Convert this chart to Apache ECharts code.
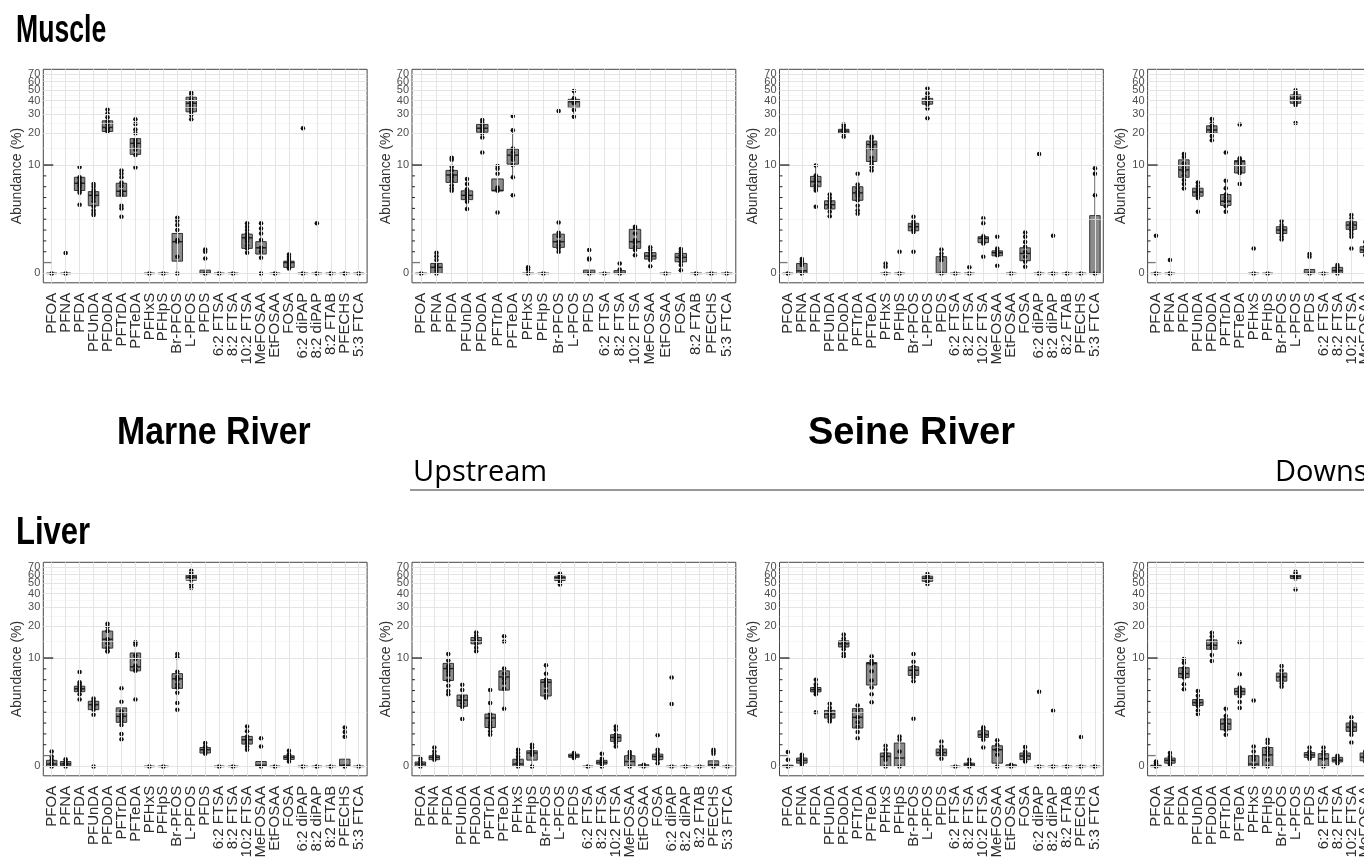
<!DOCTYPE html>
<html><head><meta charset="utf-8">
<script src="https://cdn.jsdelivr.net/npm/echarts@6/dist/echarts.min.js"></script>
<style>html,body{margin:0;padding:0;background:#fff}#c{width:1364px;height:866px}</style>
</head><body><div id="c"></div>
<script>
// ---------------- categories ----------------
const catsFull = ['PFOA','PFNA','PFDA','PFUnDA','PFDoDA','PFTrDA','PFTeDA','PFHxS','PFHpS','Br-PFOS','L-PFOS','PFDS','6:2 FTSA','8:2 FTSA','10:2 FTSA','MeFOSAA','EtFOSAA','FOSA','6:2 diPAP','8:2 diPAP','8:2 FTAB','PFECHS','5:3 FTCA'];
const catsUpMuscle = ['PFOA','PFNA','PFDA','PFUnDA','PFDoDA','PFTrDA','PFTeDA','PFHxS','PFHpS','Br-PFOS','L-PFOS','PFDS','6:2 FTSA','8:2 FTSA','10:2 FTSA','MeFOSAA','EtFOSAA','FOSA','8:2 FTAB','PFECHS','5:3 FTCA'];
// y tick labels (Abundance %)
const yTickLabels = [0,10,20,30,40,50,60,70];
const Z = [0,0,0,0,0];

// ---------------- Muscle, Marne River ----------------
// box = [lower whisker, Q1, median, Q3, upper whisker] in %
const muscleMarneBox = [Z,Z,[4.1,5.7,6.7,7.65,9.6],[3.2,4.0,5.1,5.55,6.6],[20.3,20.6,22.5,25.9,33],[3.06,5.0,5.6,6.7,8.9],[9.5,12.6,16.0,17.7,26.8],Z,Z,[0,0.53,1.46,1.92,2.98],[26.8,31.4,37.7,42.9,47.3],[0,0,0,0.14,0.14],Z,Z,[0.91,1.12,1.67,1.88,2.57],[0.68,0.85,1.15,1.46,2.57],Z,[0.21,0.26,0.47,0.53,0.83],Z,Z,Z,Z,Z];
const muscleMarnePts = [[0],[0,0.9],[9.6,7.65,7.37,6.9,6.7,6.4,6.1,5.7,5.4,4.1],[6.6,6.2,5.75,5.4,5.1,4.8,4.45,3.93,3.6,3.35,3.2],[33,30.3,27.9,25.5,23.9,22.1,21.3,20.6],[8.9,8.25,7.65,6.83,6.3,5.6,5.2,4.0,3.75,3.06],[26.8,24.2,21.5,19.8,17.1,16,15.1,13.9,12.4,9.5],[0],[0],[2.98,2.76,2.45,2.13,1.55,1.46,0.73,0],[47.3,45.1,41.0,39.0,37.7,35.7,33.8,31.4,29.3,26.8],[1.07,0.96,0.65,0],[0],[0],[2.57,2.34,2.13,1.92,1.73,1.58,1.46,1.28,1.12,0.91],[2.57,2.23,1.92,1.55,1.15,0.96,0.68,0],[0],[0.83,0.73,0.63,0.5,0.4,0.29,0.21],[0,22.1],[0,2.57],[0],[0],[0]];

// ---------------- Muscle, Seine upstream ----------------
const muscleUpBox = [Z,[0,0,0.26,0.43,0.91],[5.65,6.83,8.05,8.9,11.7],[3.7,4.62,5.1,5.65,7.37],[18.1,20.3,22.1,24.0,26.4],[5.65,5.65,5.7,7.37,9.8],[7.65,10.2,12.4,14.1,21.2],Z,Z,[0.96,1.17,1.46,1.88,2.62],[28.3,34.4,39,41,49],[0,0,0,0.14,0.14],Z,[0,0,0,0.12,0.12],[0.8,1.12,1.46,2.17,2.34],[0.31,0.62,0.76,0.92,1.17],Z,[0.14,0.5,0.7,0.88,1.09],Z,Z,Z];
const muscleUpPts = [[0],[0.91,0.75,0.58,0.36,0.26,0.12,0],[11.7,11.2,9.65,8.9,8.05,7.65,7.1,6.4,6.0,5.65],[7.37,6.6,5.85,5.4,5.1,4.8,4.4,3.7],[26.4,24.9,23.4,22.1,21,19.8,18.1,13.1],[9.8,9.2,8.25,6.1,5.85,5.65,3.4],[28.7,21.2,14.3,13.1,11.9,11.2,10.0,7.65,5.1],[0,0.17,0.26],[0],[32.0,2.62,1.96,1.76,1.46,1.28,1.12,0.96],[49,41.9,40.5,39,37.7,32.6,28.3],[1.04,0.65,0.6,0],[0],[0.43,0.17,0],[2.34,2.25,1.92,1.55,1.4,1.2,1.04,0.8],[1.17,1.04,0.88,0.73,0.58,0.31],[0],[1.09,0.96,0.8,0.65,0.5,0.36,0.14],[0],[0],[0]];

// ---------------- Muscle, Seine middle ----------------
const muscleMidBox = [Z,[0,0,0.11,0.43,0.62],[5.7,6.2,6.95,7.8,9.9],[3.1,3.7,4.1,4.5,5.2],[18.4,19.8,20.8,21.6,23.9],[3.3,4.55,5.4,6.2,8.25],[8.9,10.8,15.6,16.8,18.4],Z,Z,[1.96,2.08,2.34,2.57,3.06],[33.8,37,39.8,41.9,51.9],[0,0,0,0.73,1.07],Z,Z,[1.28,1.41,1.64,1.73,1.96],[0.77,0.77,0.91,1.0,1.1],Z,[0.29,0.55,0.88,1.15,1.98],Z,Z,Z,Z,[0,0,0,3.14,9.3]];
const muscleMidPts = [[0],[0.62,0.53,0.43,0.36,0],[9.9,7.94,7.37,6.95,6.4,5.95,5.7,3.9],[5.2,4.8,4.45,4.1,3.85,3.45,3.1],[23.9,22.9,21.6,20.8,19.8,18.4],[8.25,6.5,6.0,5.6,5.2,4.95,4.55,4.0,3.6,3.3],[18.4,17.7,16.4,15.2,14.4,11.7,10.8,10.2,9.6,8.9],[0,0.43,0.29],[0,0.96],[3.06,2.68,2.5,2.34,2.17,2.0,0.96],[51.9,46.7,43.5,41,39,36.7,33.8,27.3],[1.07,0.88,0.73,0.58,0],[0],[0,0.26],[2.93,2.57,1.76,1.64,1.46,1.37,0.73],[1.73,1.12,1.0,0.88,0.8,0.33],[0],[1.98,1.73,1.45,1.2,0.96,0.73,0.5,0.29],[0,12.7],[0,1.79],[0],[0],[9.3,8.25,5.1,0]];

// ---------------- Muscle, Seine downstream ----------------
const muscleDownBox = [Z,Z,[5.95,7.65,9.0,11.2,12.7],[4.6,5.0,5.5,6.0,6.83],[17.1,19.8,21.3,23.3,27],[3.47,4.03,4.45,5.2,7.1],[6.6,8.4,10.8,11.0,11.6],Z,Z,[1.58,1.92,2.13,2.34,2.73],[36.4,37.7,41.9,45.1,49.7],[0,0,0,0.17,0.17],Z,[0,0,0.12,0.26,0.36],[1.73,2.17,2.45,2.68,3.2],[0.7,0.92,1.05,1.2,1.45],Z,Z,Z,Z,Z,Z,Z];
const muscleDownPts = [[0,1.79],[0,0.58],[12.7,11.9,10.4,9.5,8.7,8.0,7.2,6.6,5.95],[6.83,6.3,5.8,5.5,5.2,4.8,3.47],[27,24.6,23,21.3,20.1,18.7,17.1],[13.1,7.1,6.0,5.2,4.8,4.45,3.95,3.47],[23.9,11.6,11.2,10.3,9.4,8.8,8.4,6.6],[0,1.12],[0],[2.73,2.45,2.25,2.1,1.92,1.73,1.58],[49.7,47,45.1,43,40.5,38.5,36.4,24.7],[0.85,0.73,0],[0],[0.36,0.26,0.12,0],[3.2,2.9,2.57,2.3,2.1,1.9,1.73,1.12],[1.45,1.2,1.0,0.8],[0],[0],[0],[0],[0],[0],[0]];

// ---------------- Liver, Marne River ----------------
const liverMarneBox = [[0,0,0.1,0.26,0.65],[0,0.03,0.11,0.21,0.31],[3.93,4.72,5.05,5.36,5.85],[2.68,3.06,3.47,3.77,4.03],[11.5,12.4,15.0,17.9,20.9],[1.23,2.17,2.57,3.2,5.1],[3.93,7.55,8.25,11.16,14.1],Z,Z,[3.62,5.1,6.33,7.1,10.9],[48.4,53.1,56.7,59.1,65.1],[0.55,0.58,0.73,0.83,1.04],Z,Z,[0.73,0.99,1.2,1.37,1.92],[0,0,0.05,0.21,0.21],Z,[0.21,0.3,0.39,0.46,0.68],Z,Z,Z,[0,0,0.05,0.31,0.31],Z];
const liverMarnePts = [[0.65,0.43,0.29,0.14,0],[0.31,0.21,0.14,0.07,0],[7.37,5.85,5.6,5.3,5.05,4.85,4.45,3.93],[4.03,3.77,3.5,3.3,3.06,2.68,0],[20.9,19.6,17.9,15.0,13.7,12.4,11.6,11.5],[5.1,3.73,2.93,2.7,2.45,2.25,2.0,1.5,1.23],[14.1,13.3,10.6,9.8,8.5,7.8,7.55,3.93],[0],[0],[10.9,10.2,7.4,6.6,6.2,5.6,5.2,4.6,3.62,3.06],[65.1,62,59.1,56.7,53.7,48.4,45.1],[1.04,0.88,0.73,0.62,0.55],[0],[0],[1.92,1.64,1.37,1.2,1.04,0.88,0.73],[1.28,0.88,0],[0],[0.68,0.53,0.43,0.33,0.21],[0],[0],[0],[1.86,1.6,1.35,0],[0]];

// ---------------- Liver, Seine upstream ----------------
const liverUpBox = [[0,0,0.1,0.19,0.33],[0.26,0.29,0.39,0.46,0.65],[4.45,6.1,7.94,8.9,10.9],[3.3,3.33,3.87,4.37,5.55],[11.6,13.6,14.5,15.6,17.4],[1.46,1.86,2.45,2.73,4.9],[3.14,4.9,6.6,7.55,7.94],[0,0,0.1,0.31,0.73],[0,0.27,0.58,0.68,0.96],[4.1,4.27,5.85,6.23,8.56],[48.4,52.7,56,57.9,61.2],[0.33,0.39,0.46,0.53,0.58],Z,[0,0.1,0.17,0.26,0.36],[0.88,1.12,1.32,1.46,1.92],[0,0,0.21,0.46,0.62],[0,0,0,0.07,0.07],[0.14,0.29,0.43,0.53,0.73],Z,Z,Z,[0,0,0.07,0.24,0.24],Z];
const liverUpPts = [[0.33,0.21,0.1,0],[0.83,0.65,0.5,0.39,0.29],[10.9,9.5,8.4,7.94,7.4,6.9,6.1,5.4,4.8,4.45],[5.55,4.9,4.2,3.87,3.6,3.3,2.39],[17.4,16.2,15.2,14.5,13.6,12.5,11.6],[4.9,3.62,2.73,2.45,2.2,2.0,1.86,1.65,1.46],[16.0,14.3,7.94,7.1,6.3,5.75,5.05,3.14],[0.73,0.58,0.43,0.29,0.14,0],[0.96,0.83,0.65,0.5,0],[8.56,7.1,6.2,5.85,5.4,4.8,4.27,4.1],[61.2,59,56,52.7,50,48.4],[0.58,0.5,0.43,0.36],[0],[0.55,0.33,0.21,0.1,0],[1.92,1.73,1.46,1.32,1.2,1.04,0.88],[0.62,0.5,0.36,0],[0.07,0],[1.43,0.73,0.58,0.43,0.29,0.14],[0,6.5,3.53],[0],[0],[0.73,0.65,0.55,0],[0]];

// ---------------- Liver, Seine middle ----------------
const liverMidBox = [[0,0,0,0.05,0.05],[0.07,0.14,0.26,0.36,0.5],[4.45,4.7,4.95,5.2,6.2],[2.23,2.45,2.73,3.0,3.55],[11.5,12.7,13.6,14.5,16.6],[1.28,1.83,2.5,3.14,3.4],[3.68,5.5,8.85,9.07,10.4],[0,0,0.43,0.58,0.91],[0,0,0.36,1.04,1.37],[6.0,6.83,7.65,8.25,9.2],[49,51.9,55.2,57.9,60.5],[0.33,0.46,0.6,0.76,1.12],Z,[0,0,0.07,0.14,0.14],[1.2,1.32,1.46,1.67,1.88],[0,0.14,0.73,0.91,1.17],[0,0,0,0.07,0.07],[0.21,0.29,0.45,0.58,0.8],Z,Z,Z,Z,Z];
const liverMidPts = [[0.62,0.29,0],[0.5,0.4,0.29,0.19,0.07],[6.2,5.6,5.2,4.95,4.7,4.45,2.86],[3.55,3.2,2.9,2.73,2.55,2.35,2.23],[16.6,15.3,14.5,13.9,12.9,12.1,11.0,10.4],[3.4,2.98,2.5,2.17,1.9,1.6,1.28],[10.4,9.4,8.85,7.5,6.1,5.2,4.45,3.68],[0.91,0.73,0.55,0.43,0.29,0],[1.37,1.2,0.65,0],[10.9,9.2,8.25,7.65,7.1,6.5,6.0,2.41],[60.5,57.9,55.2,51.9,49],[1.12,0.88,0.7,0.53,0.33],[0],[0.29,0.14,0.07,0],[1.88,1.76,1.55,1.37,1.2,0.83],[1.17,0.96,0.73,0.5,0],[0.07,0],[0.85,0.65,0.5,0.36,0.21],[0,4.72],[0,2.98],[0],[0,1.34],[0]];

// ---------------- Liver, Seine downstream ----------------
const liverDownBox = [[0,0,0,0.05,0.05],[0.07,0.14,0.26,0.36,0.58],[5.0,6.5,7.1,8.1,9.8],[2.73,3.4,3.65,3.93,4.8],[9.4,12.1,13.2,14.8,17.3],[1.46,1.73,2.08,2.39,3.14],[3.2,4.4,4.75,5.1,5.2],[0,0,0.1,0.46,0.88],[0,0,0.5,0.83,1.2],[5.3,6.0,6.6,7.2,8.4],[55.2,55.2,57.9,59.9,63.5],[0.33,0.39,0.5,0.6,0.83],[0,0,0.33,0.55,0.83],[0.14,0.19,0.27,0.39,0.46],[1.46,1.64,1.88,2.13,2.5],[0.2,0.24,0.4,0.58,0.65],Z,Z,Z,Z,Z,Z,Z];
const liverDownPts = [[0.21,0.14,0],[0.58,0.43,0.29,0.14,0.07],[9.8,9.0,8.0,7.4,6.9,6.5,5.6,5.0],[4.8,4.3,3.85,3.6,3.35,3.0,2.73],[17.3,15.9,14.6,13.4,12.5,10.7,9.4],[3.14,2.6,2.34,2.13,1.9,1.73,1.46],[14.1,7.0,5.2,4.85,4.55,4.25,3.7,3.2],[3.84,0.88,0.65,0.43,0.29,0],[1.2,1.04,0.8,0.65,0.5,0.29,0],[8.4,7.6,6.9,6.6,6.2,5.7,5.3],[63.5,61,58.5,56.5,55.2,43.5],[0.83,0.65,0.5,0.39,0.33],[0.83,0.65,0.5,0.33,0],[0.46,0.36,0.26,0.14],[2.5,2.2,2.0,1.8,1.64,1.46,1.07],[0.65,0.5,0.36,0.21],[0],[0],[0],[0],[0],[0],[0]];

// linear tick marks overlaid on the left axis (steps of 1 between 0 and 10)
const linearTickSteps = [1,2,3,4,5,6,7,8,9,10];

// ---------------- build ----------------
const T = v => Math.asinh(v / 2);           // pseudo-log (asinh) scale
const yMajorT = yTickLabels.map(T);
const yMinorT = [];
for (let i = 0; i < yMajorT.length - 1; i++) yMinorT.push((yMajorT[i] + yMajorT[i + 1]) / 2);

const lefts = [43.3, 412, 779.5, 1147.6];
const tops = [69.3, 562.3];
const GW = 323.8, GH = 213.5;
const panels = [
  {cats: catsFull, box: muscleMarneBox, pts: muscleMarnePts, row: 0, col: 0},
  {cats: catsUpMuscle, box: muscleUpBox, pts: muscleUpPts, row: 0, col: 1},
  {cats: catsFull, box: muscleMidBox, pts: muscleMidPts, row: 0, col: 2},
  {cats: catsFull, box: muscleDownBox, pts: muscleDownPts, row: 0, col: 3},
  {cats: catsFull, box: liverMarneBox, pts: liverMarnePts, row: 1, col: 0},
  {cats: catsFull, box: liverUpBox, pts: liverUpPts, row: 1, col: 1},
  {cats: catsFull, box: liverMidBox, pts: liverMidPts, row: 1, col: 2},
  {cats: catsFull, box: liverDownBox, pts: liverDownPts, row: 1, col: 3}
];

function renderBox(params, api) {
  const x = api.value(0);
  const pMin = api.coord([x, api.value(1)]);
  const pQ1 = api.coord([x, api.value(2)]);
  const pMed = api.coord([x, api.value(3)]);
  const pQ3 = api.coord([x, api.value(4)]);
  const pMax = api.coord([x, api.value(5)]);
  const w = api.size([0.75, 0])[0];
  const cx = pMin[0];
  const ls = {stroke: '#333', lineWidth: 1};
  return {type: 'group', children: [
    {type: 'line', shape: {x1: cx, y1: pQ3[1], x2: cx, y2: pMax[1]}, style: ls},
    {type: 'line', shape: {x1: cx, y1: pQ1[1], x2: cx, y2: pMin[1]}, style: ls},
    {type: 'rect', shape: {x: cx - w / 2, y: pQ3[1], width: w, height: Math.max(pQ1[1] - pQ3[1], 0)}, style: {fill: '#8c8c8c', stroke: '#333', lineWidth: 1}},
    {type: 'line', shape: {x1: cx - w / 2, y1: pMed[1], x2: cx + w / 2, y2: pMed[1]}, style: {stroke: '#222', lineWidth: 1.5}}
  ]};
}
function renderLinTick(params, api) {
  const k = api.value(0);
  const p0 = api.coord([-0.6, T(0)]);
  const p10 = api.coord([-0.6, T(10)]);
  const y = p0[1] + (p10[1] - p0[1]) * k / 10;
  const len = k === 10 ? 10 : (k === 1 ? 8 : 3);
  return {type: 'line', shape: {x1: p0[0], y1: y, x2: p0[0] + len, y2: y},
    style: {stroke: k === 1 ? '#777' : '#222', lineWidth: k === 10 || k === 1 ? 1.3 : 1}};
}

const grid = [], xAxis = [], yAxis = [], series = [];
const FONT = 'Liberation Sans, Arial, sans-serif';
panels.forEach((p, i) => {
  const n = p.cats.length;
  const idx = p.cats.map((c, j) => j);
  grid.push({left: lefts[p.col], top: tops[p.row], width: GW, height: GH, show: true,
    borderColor: '#444', borderWidth: 1, backgroundColor: '#fff', containLabel: false, outerBoundsMode: 'none'});
  // labels split over two coincident axes (even / odd) so that none is dropped
  [0, 1].forEach(par => {
    const vals = idx.filter(j => j % 2 === par);
    xAxis.push({gridIndex: i, type: 'value', position: 'bottom', offset: 0, min: -0.6, max: n - 0.4,
      axisLine: {show: false}, splitLine: {show: false},
      axisTick: {show: true, customValues: vals, length: 3, lineStyle: {color: '#333'}},
      axisLabel: {customValues: vals, formatter: v => p.cats[Math.round(v)], rotate: 90, fontSize: 15,
        hideOverlap: false, color: '#2b2b2b', margin: 10, fontFamily: FONT}});
    const yv = yMajorT.filter((t, k) => k % 2 === par);
    yAxis.push({gridIndex: i, type: 'value', position: 'left', offset: 0, min: -0.2, max: 4.355,
      axisLine: {show: false}, splitLine: {show: false},
      axisTick: {show: true, customValues: yv, length: 4, lineStyle: {color: '#333'}},
      axisLabel: {customValues: yv, formatter: v => String(Math.round(2 * Math.sinh(v))), fontSize: 11,
        hideOverlap: false, color: '#4d4d4d', margin: 3, fontFamily: FONT},
      name: par === 0 ? 'Abundance (%)' : '', nameLocation: 'middle', nameGap: 19, nameRotate: 90,
      nameTextStyle: {fontSize: 14, color: '#333', fontFamily: FONT}});
  });
  const xi = 2 * i, yi = 2 * i;
  // gridlines
  const ml = [];
  yMinorT.forEach(t => ml.push({yAxis: t, lineStyle: {color: '#f2f2f2', width: 0.6, type: 'solid'}}));
  yMajorT.forEach(t => ml.push({yAxis: t, lineStyle: {color: '#e4e4e4', width: 1, type: 'solid'}}));
  idx.forEach(j => ml.push({xAxis: j, lineStyle: {color: '#e4e4e4', width: 1, type: 'solid'}}));
  series.push({type: 'scatter', xAxisIndex: xi, yAxisIndex: yi, data: [], silent: true, z: 1,
    markLine: {silent: true, symbol: 'none', label: {show: false}, animation: false, data: ml}});
  // boxes
  series.push({type: 'custom', xAxisIndex: xi, yAxisIndex: yi, z: 3, silent: true, clip: false,
    renderItem: renderBox, encode: {x: 0, y: [1, 2, 3, 4, 5]},
    data: p.box.map((b, j) => [j, T(b[0]), T(b[1]), T(b[2]), T(b[3]), T(b[4])])});
  // points
  const pts = [];
  p.pts.forEach((arr, j) => arr.forEach(v => pts.push([j, T(v)])));
  series.push({type: 'scatter', xAxisIndex: xi, yAxisIndex: yi, z: 4, silent: true, symbolSize: 4.5,
    itemStyle: {color: '#111', opacity: 1}, data: pts});
  // linear tick overlay
  series.push({type: 'custom', xAxisIndex: xi, yAxisIndex: yi, z: 5, silent: true, clip: false,
    renderItem: renderLinTick, encode: {x: 0}, data: linearTickSteps.map(k => [k])});
});

// titles as condensed bold text
const titleText = (text, x, yBottom, size, sx, weight, family) => ({type: 'text', x, y: yBottom, scaleX: sx, scaleY: 1, silent: true,
  style: {text, fontSize: size, fontWeight: weight, fontFamily: family, fill: '#000', verticalAlign: 'bottom', align: 'left'}});
const graphic = [
  titleText('Muscle', 16, 51, 38, 0.70, 'bold', FONT),
  titleText('Marne River', 117, 453, 38, 0.89, 'bold', FONT),
  titleText('Seine River', 808, 453, 38, 1.0, 'bold', FONT),
  titleText('Liver', 16, 553, 38, 0.815, 'bold', FONT),
  titleText('Upstream', 413, 487, 29, 1.0, 'normal', 'Open Sans, sans-serif'),
  titleText('Downstream', 1275, 487, 29, 1.0, 'normal', 'Open Sans, sans-serif'),
  {type: 'line', silent: true, shape: {x1: 410, y1: 490, x2: 1364, y2: 490}, style: {stroke: '#333', lineWidth: 1.2}}
];

const chart = echarts.init(document.getElementById('c'), null, {renderer: 'canvas'});
chart.setOption({
  animation: false,
  backgroundColor: '#fff',
  grid, xAxis, yAxis, series, graphic
});
</script></body></html>
